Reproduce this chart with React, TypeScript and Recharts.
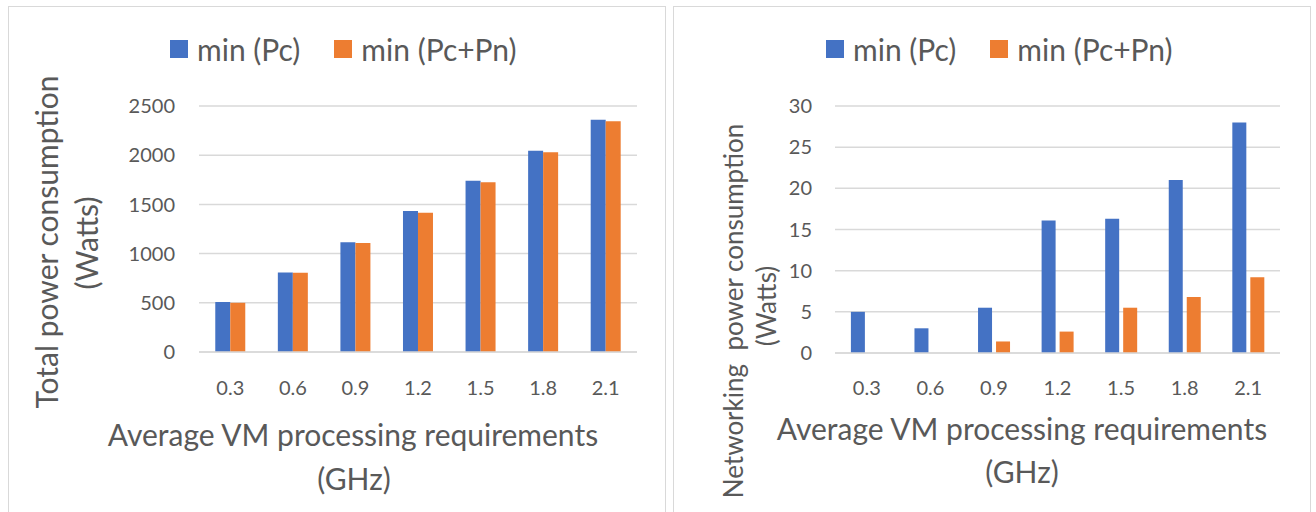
import { Bar, BarChart, CartesianGrid, Legend, XAxis, YAxis } from 'recharts'

const categories = ['0.3', '0.6', '0.9', '1.2', '1.5', '1.8', '2.1']
const seriesNames = ['min (Pc)', 'min (Pc+Pn)']
const totalMinPc = [508, 808, 1115, 1433, 1741, 2046, 2361]
const totalMinPcPn = [500, 806, 1108, 1416, 1724, 2029, 2344]
const netMinPc = [5, 3, 5.5, 16.1, 16.3, 21, 28]
const netMinPcPn = [0, 0, 1.4, 2.6, 5.5, 6.8, 9.2]
const totalTicks = [0, 500, 1000, 1500, 2000, 2500]
const netTicks = [0, 5, 10, 15, 20, 25, 30]

const BLUE = '#4472C4'
const ORANGE = '#ED7D31'
const TEXT = '#595959'
const GRID = '#D9D9D9'
const FONT = 'Lato, "Open Sans", sans-serif'

const totalData = categories.map((name, i) => ({ name, pc: totalMinPc[i], pcpn: totalMinPcPn[i] }))
const netData = categories.map((name, i) => ({ name, pc: netMinPc[i], pcpn: netMinPcPn[i] }))

function LegendRow({ payload }: any) {
  return (
    <div
      style={{
        display: 'flex',
        alignItems: 'center',
        fontFamily: FONT,
        fontSize: 30,
        lineHeight: 1,
        color: TEXT,
        whiteSpace: 'nowrap',
      }}
    >
      {(payload ?? []).map((item: any, i: number) => (
        <div key={item.value} style={{ display: 'flex', alignItems: 'center', marginLeft: i ? 34 : 0 }}>
          <span style={{ display: 'inline-block', width: 18, height: 18, background: item.color, marginRight: 9 }} />
          <span>{item.value}</span>
        </div>
      ))}
    </div>
  )
}

// two-line titles, placed in chart coordinates
function VTitle({ lines, size }: { lines: [string, number, number][]; size: number }) {
  return (
    <g fill={TEXT} fontFamily={FONT} fontSize={size}>
      {lines.map(([t, x, y]) => (
        <text
          key={t}
          x={x}
          y={y}
          xmlSpace="preserve"
          transform={`rotate(-90 ${x} ${y})`}
          textAnchor="middle"
          dominantBaseline="central"
        >
          {t}
        </text>
      ))}
    </g>
  )
}

function HTitle({ lines, size }: { lines: [string, number, number][]; size: number }) {
  return (
    <g fill={TEXT} fontFamily={FONT} fontSize={size}>
      {lines.map(([t, x, y]) => (
        <text key={t} x={x} y={y} textAnchor="middle">
          {t}
        </text>
      ))}
    </g>
  )
}

const tickStyle = { fill: TEXT, fontSize: 20, fontFamily: FONT }

export default function App() {
  return (
    <div style={{ position: 'absolute', left: 0, top: 0, width: 1316, height: 512, background: '#fff', overflow: 'hidden' }}>
      <div style={{ position: 'absolute', left: 8, top: 6, width: 656, height: 520, border: `1px solid ${GRID}` }} />
      <div style={{ position: 'absolute', left: 673, top: 6, width: 636, height: 520, border: `1px solid ${GRID}` }} />

      <div style={{ position: 'absolute', left: 8, top: 6 }}>
        <BarChart
          width={657}
          height={506}
          data={totalData}
          margin={{ top: 100, right: 28, bottom: 0, left: 0 }}
          barGap={0}
          barCategoryGap="26%"
        >
          <CartesianGrid vertical={false} stroke={GRID} strokeWidth={1.5} />
          <XAxis
            dataKey="name"
            height={160}
            tickLine={false}
            stroke={GRID}
            strokeWidth={1.5}
            tick={tickStyle}
            tickSize={0}
            tickMargin={29}
            label={() => (
              <HTitle
                size={30}
                lines={[
                  ['Average VM processing requirements', 345, 440],
                  ['(GHz)', 346, 484],
                ]}
              />
            )}
          />
          <YAxis
            width={191}
            domain={[0, 2500]}
            ticks={totalTicks}
            axisLine={false}
            tickLine={false}
            tick={tickStyle}
            tickSize={0}
            tickMargin={24}
            label={() => (
              <VTitle
                size={30}
                lines={[
                  ['Total power consumption', 38, 236],
                  ['(Watts)', 78, 237],
                ]}
              />
            )}
          />
          <Legend
            verticalAlign="middle"
            align="center"
            content={<LegendRow />}
            wrapperStyle={{ top: 28, left: 162, width: 'auto', height: 'auto' }}
          />
          <Bar dataKey="pc" name={seriesNames[0]} fill={BLUE} isAnimationActive={false} />
          <Bar dataKey="pcpn" name={seriesNames[1]} fill={ORANGE} isAnimationActive={false} />
        </BarChart>
      </div>

      <div style={{ position: 'absolute', left: 673, top: 6 }}>
        <BarChart
          width={637}
          height={506}
          data={netData}
          margin={{ top: 100, right: 30, bottom: 0, left: 0 }}
          barGap={4}
          barCategoryGap="25%"
        >
          <CartesianGrid vertical={false} stroke={GRID} strokeWidth={1.5} />
          <XAxis
            dataKey="name"
            height={159}
            tickLine={false}
            stroke={GRID}
            strokeWidth={1.5}
            tick={tickStyle}
            tickSize={0}
            tickMargin={28}
            label={() => (
              <HTitle
                size={30}
                lines={[
                  ['Average VM processing requirements', 349, 434],
                  ['(GHz)', 349, 477],
                ]}
              />
            )}
          />
          <YAxis
            width={162}
            domain={[0, 30]}
            ticks={netTicks}
            axisLine={false}
            tickLine={false}
            tick={tickStyle}
            tickSize={0}
            tickMargin={23}
            label={() => (
              <VTitle
                size={26}
                lines={[
                  ['Networking  power consumption', 60, 305],
                  ['(Watts)', 93, 300],
                ]}
              />
            )}
          />
          <Legend
            verticalAlign="middle"
            align="center"
            content={<LegendRow />}
            wrapperStyle={{ top: 28, left: 153, width: 'auto', height: 'auto' }}
          />
          <Bar dataKey="pc" name={seriesNames[0]} fill={BLUE} isAnimationActive={false} />
          <Bar dataKey="pcpn" name={seriesNames[1]} fill={ORANGE} isAnimationActive={false} />
        </BarChart>
      </div>
    </div>
  )
}
